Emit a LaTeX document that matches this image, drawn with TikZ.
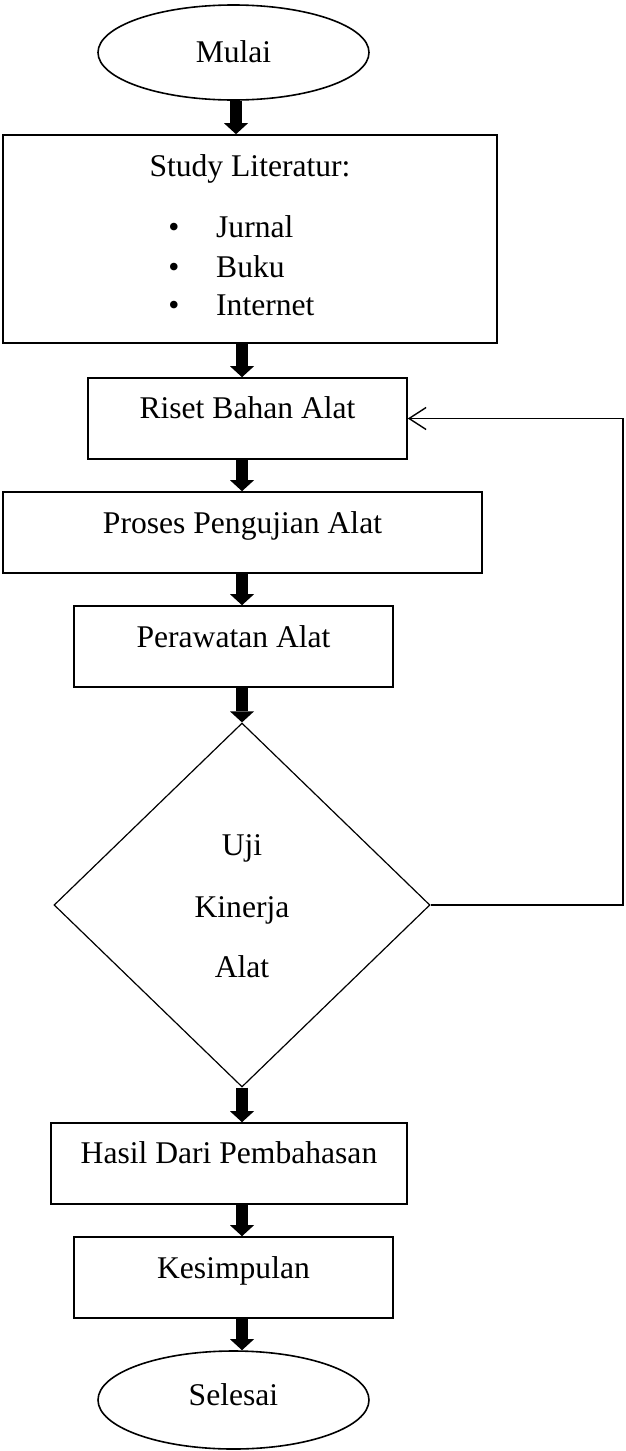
\documentclass[tikz,border=0pt]{standalone}
\usepackage{fontspec}
\setmainfont{Liberation Serif}
\usetikzlibrary{shapes.geometric,arrows.meta,calc}
\tikzset{
  box/.style={draw, line width=1.6pt, rectangle, inner sep=0pt},
  term/.style={draw, line width=1.6pt, ellipse, inner sep=0pt},
  decision/.style={draw, line width=1.2pt, diamond, inner sep=0pt},
  txt/.style={anchor=base, inner sep=0pt, font=\fontsize{31.6}{38}\selectfont},
  txtw/.style={anchor=base west, inner sep=0pt, font=\fontsize{31.6}{38}\selectfont},
  bigarrow/.style={line width=12pt, -{Triangle[width=24pt,length=11pt,line width=0pt]}},
  back/.style={line width=1.1pt, -{Straight Barb[length=17pt,width=22pt,line width=1.4pt]}},
}
\begin{document}
\begin{tikzpicture}[x=1pt,y=-1pt]
\useasboundingbox (0,0) rectangle (625,1451);
\coordinate (ax1) at (236,0);
\coordinate (ax) at (242,0);
% shapes
\node[term, minimum width=271pt, minimum height=95pt] (mulai) at (233.5,52.5) {};
\node[box, minimum width=494pt, minimum height=208pt] (study) at (250,239) {};
\node[box, minimum width=319pt, minimum height=81pt] (riset) at (247.5,418.5) {};
\node[box, minimum width=479pt, minimum height=81pt] (proses) at (242.5,532.5) {};
\node[box, minimum width=319pt, minimum height=81pt] (rawat) at (233.5,646.5) {};
\node[decision, minimum width=376pt, minimum height=364pt] (uji) at (242,905) {};
\node[box, minimum width=356pt, minimum height=81pt] (hasil) at (229,1163.5) {};
\node[box, minimum width=319pt, minimum height=81pt] (simpul) at (233.5,1277.5) {};
\node[term, minimum width=271pt, minimum height=98pt] (selesai) at (233.5,1400) {};
% texts
\node[txt] (tmulai) at (233.5,62) {Mulai};
\node[txt] (tstudy) at (250,176) {Study Literatur:};
\node[txt] (b1) at (174,237) {•};
\node[txt] (b2) at (174,277) {•};
\node[txt] (b3) at (174,315) {•};
\node[txtw] (tj) at (216,237) {Jurnal};
\node[txtw] (tb) at (216,277) {Buku};
\node[txtw] (ti) at (216,315) {Internet};
\node[txt] (triset) at (247.5,418) {Riset Bahan Alat};
\node[txt] (tproses) at (242.5,533) {Proses Pengujian Alat};
\node[txt] (trawat) at (233.5,647) {Perawatan Alat};
\node[txt] (tuji1) at (242,855) {Uji};
\node[txt] (tuji2) at (242,917) {Kinerja};
\node[txt] (tuji3) at (242,977) {Alat};
\node[txt] (thasil) at (229,1163) {Hasil Dari Pembahasan};
\node[txt] (tsimpul) at (233.5,1278) {Kesimpulan};
\node[txt] (tselesai) at (233.5,1405) {Selesai};
% connectors
\draw[bigarrow] (mulai.south -| ax1) -- (study.north -| ax1);
\draw[bigarrow] (study.south -| ax) -- (riset.north -| ax);
\draw[bigarrow] (riset.south -| ax) -- (proses.north -| ax);
\draw[bigarrow] (proses.south -| ax) -- (rawat.north -| ax);
\draw[bigarrow] (rawat.south -| ax) -- (uji.north);
\draw[bigarrow] (uji.south) -- (hasil.north -| ax);
\draw[bigarrow] (hasil.south -| ax) -- (simpul.north -| ax);
\draw[bigarrow] (simpul.south -| ax) -- (selesai.north -| ax);
\coordinate (fb) at (623,905);
\draw[back] (uji.east) -- (fb) |- (riset.east);
\end{tikzpicture}
\end{document}
